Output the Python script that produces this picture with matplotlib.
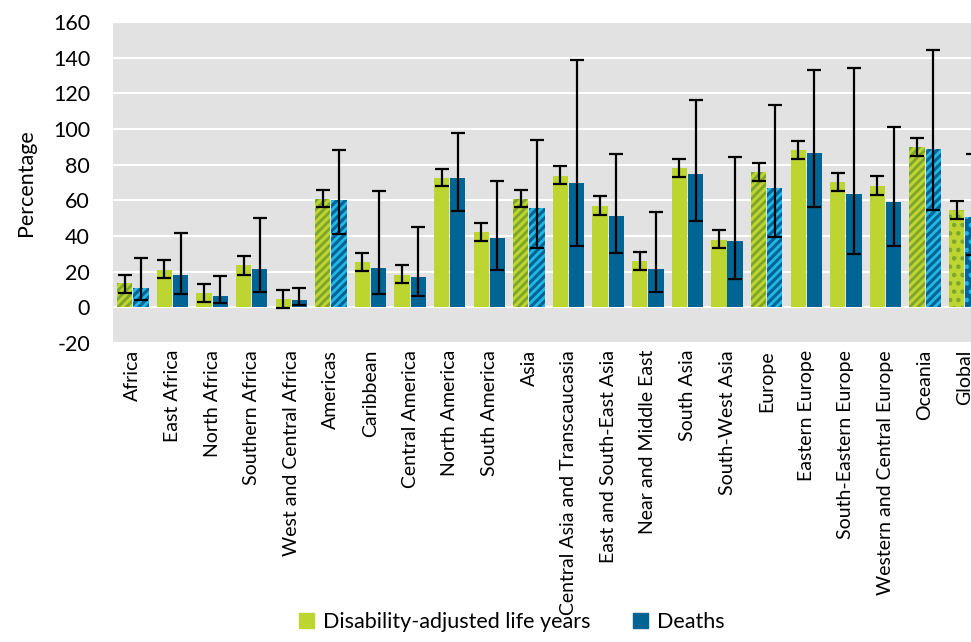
import matplotlib
matplotlib.use("Agg")
import matplotlib.pyplot as plt
import numpy as np

regions = ["Africa", "East Africa", "North Africa", "Southern Africa",
           "West and Central Africa", "Americas", "Caribbean", "Central America",
           "North America", "South America", "Asia", "Central Asia and Transcaucasia",
           "East and South-East Asia", "Near and Middle East", "South Asia",
           "South-West Asia", "Europe", "Eastern Europe", "South-Eastern Europe",
           "Western and Central Europe", "Oceania", "Global"]
# continents get striped bars, the world total gets dotted bars
kind = ["cont", "", "", "", "", "cont", "", "", "", "", "cont", "", "", "", "",
        "", "cont", "", "", "", "cont", "glob"]

daly = [13.6, 21.2, 8.0, 23.5, 4.5, 61.0, 25.5, 18.2, 72.6, 42.0, 60.9, 73.9,
        57.0, 25.9, 78.0, 38.0, 76.1, 88.0, 70.2, 68.2, 89.7, 54.4]
daly_lo = [8.2, 16.2, 3.0, 18.4, -0.6, 56.0, 20.4, 13.4, 67.8, 37.0, 56.0, 68.9,
           52.0, 21.0, 73.2, 33.1, 70.7, 83.0, 65.1, 63.1, 84.7, 49.5]
daly_hi = [18.2, 26.4, 13.0, 28.7, 9.5, 66.0, 30.7, 23.5, 77.8, 47.1, 66.0, 79.1,
           62.2, 30.9, 83.2, 43.2, 80.8, 93.3, 75.2, 73.4, 94.7, 59.6]

deaths = [10.8, 18.0, 6.5, 21.4, 3.9, 60.0, 22.3, 16.8, 72.4, 38.7, 55.5, 69.8,
          51.0, 21.4, 75.0, 37.2, 67.2, 86.8, 63.3, 59.2, 89.0, 50.4]
deaths_lo = [4.1, 7.4, 2.4, 8.7, 1.3, 41.1, 7.3, 6.1, 54.0, 21.0, 33.1, 34.6,
             30.3, 8.4, 48.4, 16.0, 39.3, 56.4, 29.8, 34.2, 54.7, 29.4]
deaths_hi = [27.5, 41.5, 17.7, 50.0, 11.0, 88.4, 65.5, 44.9, 97.8, 70.6, 93.9,
             138.7, 86.2, 53.2, 116.0, 84.1, 113.6, 133.0, 134.4, 101.3, 144.3, 86.0]

green = "#BDD531"
green_dark = "#7FA42C"
blue = "#006494"
cyan = "#22B8E8"

plt.rcParams["font.family"] = ["Lato", "DejaVu Sans"]
plt.rcParams["hatch.linewidth"] = 2.0
plt.rcParams["axes.unicode_minus"] = False

fig = plt.figure(figsize=(9.71, 6.42), dpi=100)
ax = fig.add_axes([0.1164, 0.4657, 0.8975, 0.5])
ax.set_facecolor("#E2E2E2")

x = np.arange(len(regions))
w = 0.385
off = w / 2 + 0.012

for i in range(len(regions)):
    if kind[i] == "cont":
        gh, bh = "////", "////"
    elif kind[i] == "glob":
        gh, bh = "..", ".."
    else:
        gh, bh = None, None
    ax.bar(x[i] - off, daly[i], w, color=green, edgecolor=green_dark if gh else green,
           hatch=gh, linewidth=0, zorder=2)
    ax.bar(x[i] + off, deaths[i], w, color=blue, edgecolor=cyan if bh else blue,
           hatch=bh, linewidth=0, zorder=2)

d = np.array(daly)
dt = np.array(deaths)
ax.errorbar(x - off, d, yerr=[d - np.array(daly_lo), np.array(daly_hi) - d],
            fmt="none", ecolor="black", elinewidth=1.6, capsize=5, capthick=1.6, zorder=3)
ax.errorbar(x + off, dt, yerr=[dt - np.array(deaths_lo), np.array(deaths_hi) - dt],
            fmt="none", ecolor="black", elinewidth=1.6, capsize=5, capthick=1.6, zorder=3)

ax.set_ylim(-20, 160)
ax.set_yticks(np.arange(-20, 161, 20))
ax.set_xlim(-0.5, len(regions) - 0.5)
ax.set_xticks(x)
ax.set_xticklabels(regions, rotation=90, fontsize=14)
ax.tick_params(axis="both", length=0)
ax.tick_params(axis="x", pad=5, labelsize=14)
ax.tick_params(axis="y", pad=16.5, labelsize=15.5)
ax.grid(axis="y", color="white", linewidth=1.5, zorder=1)
ax.set_axisbelow(True)
for s in ax.spines.values():
    s.set_visible(False)
ax.set_ylabel("Percentage", fontsize=15.5, labelpad=12)

handles = [plt.Rectangle((0, 0), 1, 1, color=green), plt.Rectangle((0, 0), 1, 1, color=blue)]
fig.legend(handles, ["Disability-adjusted life years", "Deaths"], loc="lower center",
           bbox_to_anchor=(0.527, -0.015), ncol=2, frameon=False, fontsize=15.5,
           handlelength=0.7, handleheight=0.7, handletextpad=0.4, columnspacing=2.0)

fig.savefig("out.png", dpi=100)
